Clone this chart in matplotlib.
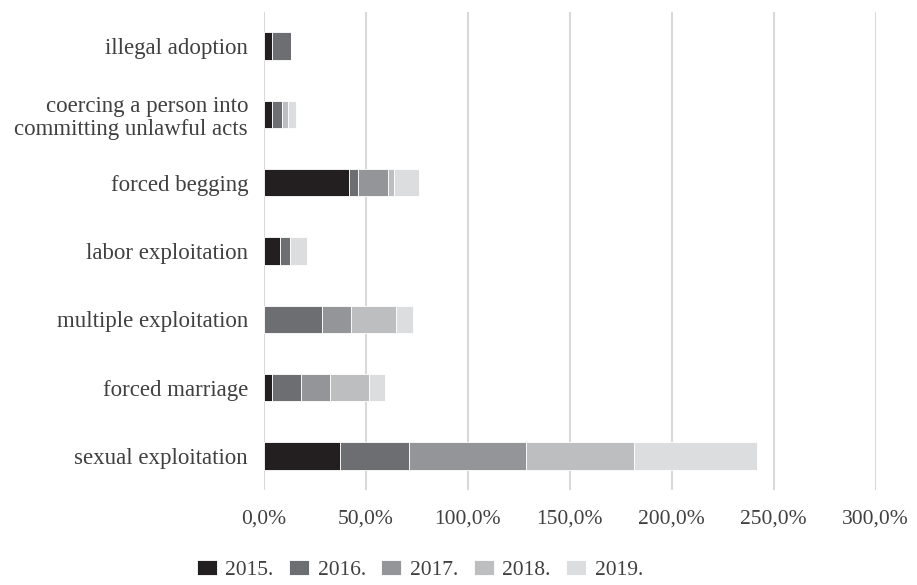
import matplotlib
matplotlib.use("Agg")
import matplotlib.pyplot as plt
from matplotlib.ticker import FuncFormatter

categories = ["sexual exploitation", "forced marriage", "multiple exploitation",
              "labor exploitation", "forced begging",
              "coercing a person into\ncommitting unlawful acts", "illegal adoption"]
years = ["2015.", "2016.", "2017.", "2018.", "2019."]
# share (%) per year, same order as categories
v2015 = [37.3, 3.9, 0.0, 7.8, 41.7, 3.8, 3.8]
v2016 = [33.6, 14.2, 28.4, 5.1, 4.5, 4.9, 9.6]
v2017 = [57.4, 14.4, 14.2, 0.0, 14.7, 0.0, 0.0]
v2018 = [53.1, 19.0, 22.1, 0.0, 2.9, 3.1, 0.0]
v2019 = [60.6, 8.0, 8.2, 8.0, 12.3, 4.0, 0.0]
colors = ["#231f20", "#6d6e71", "#939598", "#bcbec0", "#dcdddf"]

plt.rcParams["font.family"] = ["Liberation Serif", "DejaVu Serif"]
TXT = "#404040"

fig = plt.figure(figsize=(9.17, 5.85), dpi=100)
ax = fig.add_axes([0.288, 0.1624, 0.667, 0.8171])

left = [0.0] * len(categories)
for vals, lab, col in zip([v2015, v2016, v2017, v2018, v2019], years, colors):
    ax.barh(range(len(categories)), vals, left=left, height=0.4, color=col,
            edgecolor="white", linewidth=0.6, label=lab, zorder=3)
    left = [a + b for a, b in zip(left, vals)]

ax.set_xlim(0, 300)
ax.set_ylim(-0.5, len(categories) - 0.5)
ax.set_xticks(range(0, 301, 50))
ax.xaxis.set_major_formatter(FuncFormatter(lambda x, p: f"{x:.1f}%".replace(".", ",")))
ax.set_yticks(range(len(categories)))
ax.set_yticklabels(categories, linespacing=1.1)
ax.grid(axis="x", color="#d9d9d9", lw=1.5, zorder=0)
for s in ax.spines.values():
    s.set_visible(False)
ax.tick_params(axis="y", length=0, labelsize=16.5, colors=TXT, pad=11.5)
ax.tick_params(axis="x", length=0, labelsize=15.5, colors=TXT, pad=14)

ax.legend(loc="center", bbox_to_anchor=(420 / 917, 1 - 570 / 585),
          bbox_transform=fig.transFigure, ncol=5, frameon=False,
          fontsize=15.5, labelcolor=TXT, handlelength=0.93, handleheight=0.74,
          handletextpad=0.4, columnspacing=0.72)

fig.savefig("out.png", dpi=100)
